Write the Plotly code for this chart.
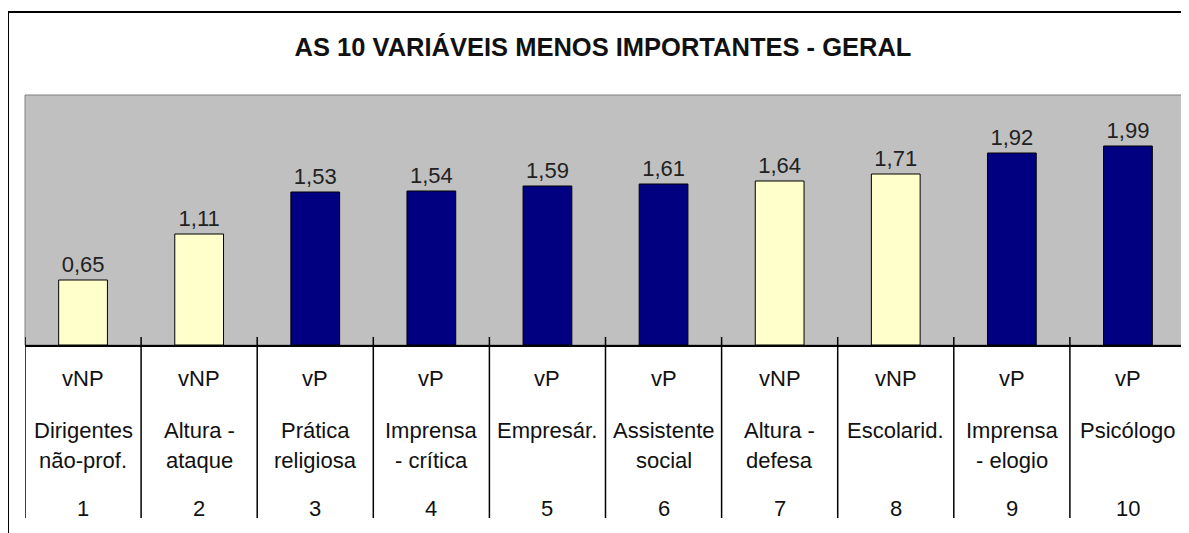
import plotly.graph_objects as go

# dados
ranks = ["1", "2", "3", "4", "5", "6", "7", "8", "9", "10"]
values = [0.65, 1.11, 1.53, 1.54, 1.59, 1.61, 1.64, 1.71, 1.92, 1.99]
kinds = ["vNP", "vNP", "vP", "vP", "vP", "vP", "vNP", "vNP", "vP", "vP"]
labels = ["Dirigentes\nnão-prof.", "Altura -\nataque", "Prática\nreligiosa",
          "Imprensa\n- crítica", "Empresár.", "Assistente\nsocial",
          "Altura -\ndefesa", "Escolarid.", "Imprensa\n- elogio", "Psicólogo"]
kind_colors = {"vNP": "#FFFFCC", "vP": "#000080"}

# o navegador põe 8px de margem no body, por isso a figura é menor
OFF = 8
W, H = 1189 - OFF, 533 - OFF
PX0, PX1, PY0, PY1 = 25, 1186, 95, 345  # área do gráfico em pixels da página
L, R = PX0 - OFF, W - (PX1 - OFF)
T, B = PY0 - OFF, H - (PY1 - OFF)
pw, ph = PX1 - PX0, PY1 - PY0


def py(pix):
    # pixel vertical da página -> coordenada "paper"
    return (PY1 - pix) / ph


def px(pix):
    return (pix - PX0) / pw


FONT = "Liberation Sans, Arial, sans-serif"

fig = go.Figure(go.Bar(
    x=list(range(len(ranks))),
    y=values,
    marker=dict(color=[kind_colors[k] for k in kinds],
                line=dict(color="black", width=1)),
    texttemplate="%{y:.2f}",
    textposition="outside",
    textfont=dict(family=FONT, size=22, color="#222222"),
    cliponaxis=False,
    hoverinfo="skip",
))

shapes = []
# moldura externa
shapes.append(dict(type="rect", xref="paper", yref="paper",
                   x0=px(8), x1=px(1200), y0=py(560), y1=py(12),
                   line=dict(color="black", width=2), layer="below"))
# borda da área do gráfico
shapes.append(dict(type="rect", xref="paper", yref="paper",
                   x0=0, x1=1, y0=0, y1=1,
                   line=dict(color="#808080", width=1), layer="below"))
# linhas da tabela
for i in range(len(ranks) + 1):
    shapes.append(dict(type="line", xref="x", yref="paper",
                       x0=i - 0.5, x1=i - 0.5, y0=py(337), y1=py(518),
                       line=dict(color="black", width=1.5)))

annotations = []
for i in range(len(ranks)):
    annotations.append(dict(x=i, y=py(378), text=kinds[i]))
    parts = labels[i].split("\n")
    for j, p in enumerate(parts):
        annotations.append(dict(x=i, y=py(430 + 30 * j), text=p))
    annotations.append(dict(x=i, y=py(508), text=ranks[i]))
for a in annotations:
    a.update(xref="x", yref="paper", showarrow=False,
             font=dict(family=FONT, size=22, color="#111111"),
             xanchor="center", yanchor="middle")

fig.update_layout(
    width=W, height=H,
    margin=dict(l=L, r=R, t=T, b=B),
    paper_bgcolor="white",
    plot_bgcolor="#C0C0C0",
    separators=",.",
    showlegend=False,
    bargap=0.58,
    title=dict(text="<b>AS 10 VARIÁVEIS MENOS IMPORTANTES - GERAL</b>",
               x=(603 - OFF) / W, xanchor="center",
               y=1 - (47 - OFF) / H, yanchor="middle",
               font=dict(family=FONT, size=25.5, color="#111111")),
    xaxis=dict(range=[-0.5, len(ranks) - 0.5], showticklabels=False,
               showgrid=False, zeroline=False, showline=True,
               linecolor="black", linewidth=1.5, ticks=""),
    yaxis=dict(range=[0, 2.5], visible=False, showgrid=False),
    shapes=shapes,
    annotations=annotations,
)

fig.write_html("out.html")
